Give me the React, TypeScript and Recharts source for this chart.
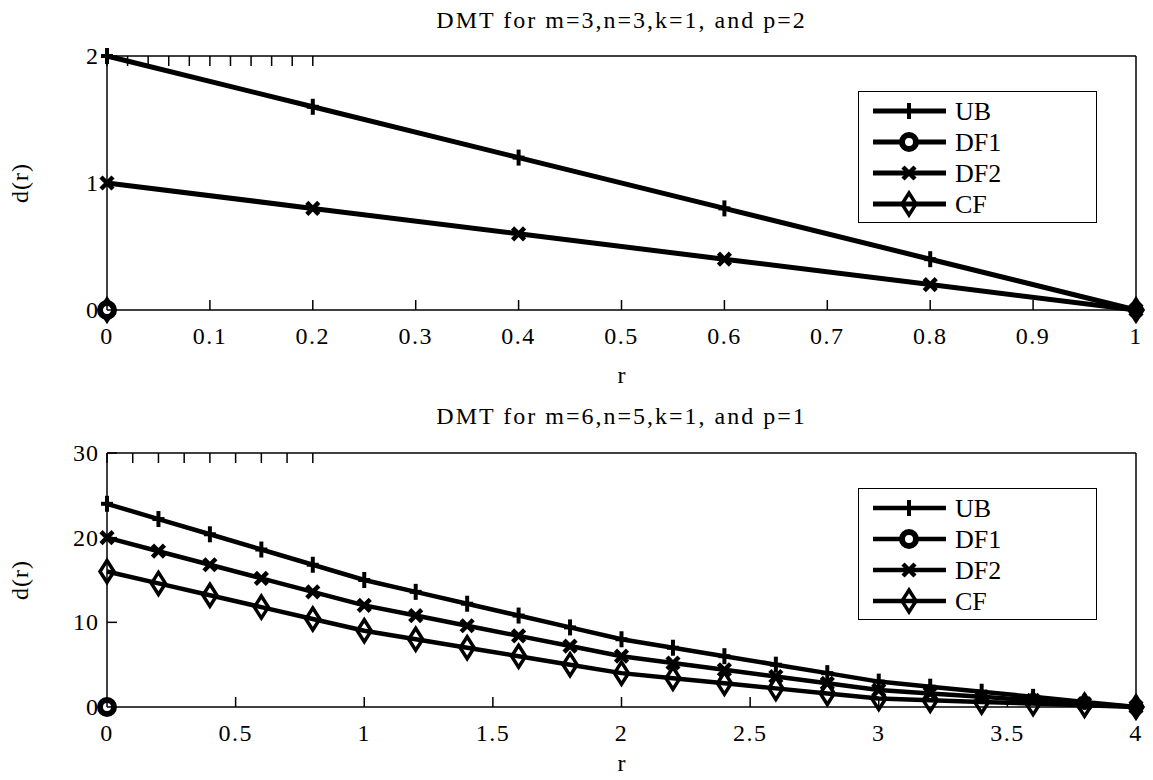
import React from "react";
import { LineChart, Line, XAxis, YAxis, Legend, Label } from "recharts";

const FONT = "'Liberation Serif', 'Times New Roman', serif";

// top panel: m=3, n=3, k=1, p=2
const rTop = [0, 0.2, 0.4, 0.6, 0.8, 1];
const ubTop = [2, 1.6, 1.2, 0.8, 0.4, 0];
const df1Top = [0, null, null, null, null, null];
const df2Top = [1, 0.8, 0.6, 0.4, 0.2, 0];
const cfTop = [0, null, null, null, null, 0];
const xTicksTop = [0, 0.1, 0.2, 0.3, 0.4, 0.5, 0.6, 0.7, 0.8, 0.9, 1];
const yTicksTop = [0, 1, 2];

// bottom panel: m=6, n=5, k=1, p=1
const rBot = [0, 0.2, 0.4, 0.6, 0.8, 1, 1.2, 1.4, 1.6, 1.8, 2, 2.2, 2.4, 2.6, 2.8, 3, 3.2, 3.4, 3.6, 3.8, 4];
const ubBot = [24, 22.2, 20.4, 18.6, 16.8, 15, 13.6, 12.2, 10.8, 9.4, 8, 7, 6, 5, 4, 3, 2.4, 1.8, 1.2, 0.6, 0];
const df1Bot = [0, null, null, null, null, null, null, null, null, null, null, null, null, null, null, null, null, null, null, null, null];
const df2Bot = [20, 18.4, 16.8, 15.2, 13.6, 12, 10.8, 9.6, 8.4, 7.2, 6, 5.2, 4.4, 3.6, 2.8, 2, 1.6, 1.2, 0.8, 0.4, 0];
const cfBot = [16, 14.6, 13.2, 11.8, 10.4, 9, 8, 7, 6, 5, 4, 3.4, 2.8, 2.2, 1.6, 1, 0.8, 0.6, 0.4, 0.2, 0];
const xTicksBot = [0, 0.5, 1, 1.5, 2, 2.5, 3, 3.5, 4];
const yTicksBot = [0, 10, 20, 30];

const seriesNames = ["UB", "DF1", "DF2", "CF"];
const markerKinds = ["plus", "circle", "cross", "diamond"];

function buildRows(r: number[], ub: any[], df1: any[], df2: any[], cf: any[]) {
  return r.map((x, i) => ({ r: x, UB: ub[i], DF1: df1[i], DF2: df2[i], CF: cf[i] }));
}

function Marker({ kind, cx, cy }: { kind: string; cx: number; cy: number }) {
  if (kind === "plus") {
    return (
      <g stroke="#000" strokeWidth={4}>
        <line x1={cx} x2={cx} y1={cy - 8} y2={cy + 8} />
        <line x1={cx - 6} x2={cx + 6} y1={cy} y2={cy} />
      </g>
    );
  }
  if (kind === "circle") {
    return <circle cx={cx} cy={cy} r={7} fill="#fff" stroke="#000" strokeWidth={6} />;
  }
  if (kind === "cross") {
    return (
      <g stroke="#000" strokeWidth={4.5}>
        <line x1={cx - 6} x2={cx + 6} y1={cy - 6} y2={cy + 6} />
        <line x1={cx - 6} x2={cx + 6} y1={cy + 6} y2={cy - 6} />
      </g>
    );
  }
  return (
    <path
      d={`M${cx},${cy - 11}L${cx + 7},${cy}L${cx},${cy + 11}L${cx - 7},${cy}Z`}
      fill="none"
      stroke="#000"
      strokeWidth={3.5}
    />
  );
}

function dotFor(kind: string) {
  return (p: any) => {
    if (p.cx == null || p.cy == null || p.value == null || (Array.isArray(p.value) && p.value[1] == null)) {
      return <g key={`e-${kind}-${p.index}`} />;
    }
    return (
      <g key={`${kind}-${p.index}`}>
        <Marker kind={kind} cx={p.cx} cy={p.cy} />
      </g>
    );
  };
}

const BottomTick = (p: any) => (
  <g>
    <line x1={p.x} x2={p.x} y1={p.y} y2={p.y - 10} stroke="#000" strokeWidth={1.5} />
    <text x={p.x} y={p.y + 34} textAnchor="middle" fontSize={24} letterSpacing={1.5} fontFamily={FONT} fill="#000">
      {String(p.payload.value)}
    </text>
  </g>
);
const TopTick = (p: any) => (
  <line x1={p.x} x2={p.x} y1={p.y} y2={p.y + 10} stroke="#000" strokeWidth={1.5} />
);
const LeftTick = (p: any) => (
  <g>
    <line x1={p.x} x2={p.x + 10} y1={p.y} y2={p.y} stroke="#000" strokeWidth={1.5} />
    <text x={p.x - 8} y={p.y + 8} textAnchor="end" fontSize={24} letterSpacing={1} fontFamily={FONT} fill="#000">
      {String(p.payload.value)}
    </text>
  </g>
);
const RightTick = (p: any) => (
  <line x1={p.x} x2={p.x - 10} y1={p.y} y2={p.y} stroke="#000" strokeWidth={1.5} />
);

function LegendBox({ width }: { width: number }) {
  return (
    <div style={{ width: 239, height: 132, boxSizing: "border-box", border: "1.5px solid #000", background: "#fff" }}>
      <svg width={236} height={129} style={{ display: "block" }}>
        {seriesNames.map((name, i) => {
          const y = 19 + i * 31;
          return (
            <g key={name}>
              <line x1={14} x2={87} y1={y} y2={y} stroke="#000" strokeWidth={width} />
              <Marker kind={markerKinds[i]} cx={50} cy={y} />
              <text x={96} y={y + 9} fontSize={26} fontFamily={FONT} fill="#000">
                {name}
              </text>
            </g>
          );
        })}
      </svg>
    </div>
  );
}

interface PanelProps {
  rows: any[];
  xTicks: number[];
  yTicks: number[];
  xMax: number;
  yMax: number;
  plotTop: number;
  plotBottom: number;
  lineWidth: number;
  legendTop: number;
  rOffset: number;
}

function Panel({ rows, xTicks, yTicks, xMax, yMax, plotTop, plotBottom, lineWidth, legendTop, rOffset }: PanelProps) {
  const H = 390;
  return (
    <LineChart
      width={1153}
      height={H}
      data={rows}
      margin={{ top: plotTop - 10, right: 7, left: 47, bottom: H - plotBottom - 60 }}
    >
      <XAxis
        xAxisId={0}
        dataKey="r"
        type="number"
        domain={[0, xMax]}
        ticks={xTicks}
        interval={0}
        height={60}
        tickSize={0}
        tickMargin={0}
        tickLine={false}
        tick={BottomTick}
        axisLine={{ stroke: "#000", strokeWidth: 1.5 }}
      >
        <Label
          content={(lp: any) => {
            const vb = lp.viewBox || {};
            return (
              <text x={vb.x + vb.width / 2} y={vb.y + rOffset} textAnchor="middle" fontSize={24} fontFamily={FONT} fill="#000">
                r
              </text>
            );
          }}
        />
      </XAxis>
      <XAxis
        xAxisId="top"
        orientation="top"
        type="number"
        domain={[0, xMax]}
        ticks={xTicks}
        interval={0}
        height={10}
        tickSize={0}
        tickMargin={0}
        tickLine={false}
        tick={TopTick}
        axisLine={{ stroke: "#000", strokeWidth: 1.5 }}
      />
      <YAxis
        yAxisId={0}
        type="number"
        domain={[0, yMax]}
        ticks={yTicks}
        interval={0}
        width={60}
        tickSize={0}
        tickMargin={0}
        tickLine={false}
        tick={LeftTick}
        axisLine={{ stroke: "#000", strokeWidth: 1.5 }}
      >
        <Label
          content={(lp: any) => {
            const vb = lp.viewBox || {};
            const cy = vb.y + vb.height / 2;
            return (
              <text
                x={20}
                y={cy}
                transform={`rotate(-90 20 ${cy})`}
                textAnchor="middle"
                dominantBaseline="central"
                fontSize={24}
                letterSpacing={1}
                fontFamily={FONT}
                fill="#000"
              >
                d(r)
              </text>
            );
          }}
        />
      </YAxis>
      <YAxis
        yAxisId="right"
        orientation="right"
        type="number"
        domain={[0, yMax]}
        ticks={yTicks}
        interval={0}
        width={10}
        tickSize={0}
        tickMargin={0}
        tickLine={false}
        tick={RightTick}
        axisLine={{ stroke: "#000", strokeWidth: 1.5 }}
      />
      <Legend
        layout="vertical"
        align="center"
        verticalAlign="middle"
        wrapperStyle={{ left: 858, top: legendTop, width: 239, height: 132 }}
        content={() => <LegendBox width={lineWidth} />}
      />
      {seriesNames.map((name, i) => (
        <Line
          key={name}
          dataKey={name}
          stroke="#000"
          strokeWidth={lineWidth}
          dot={dotFor(markerKinds[i])}
          activeDot={false}
          connectNulls={false}
          isAnimationActive={false}
        />
      ))}
    </LineChart>
  );
}

const titleStyle: React.CSSProperties = {
  position: "absolute",
  left: 107,
  width: 1029,
  textAlign: "center",
  fontFamily: FONT,
  fontSize: 24,
  letterSpacing: 2,
  lineHeight: "24px",
  color: "#000",
  whiteSpace: "nowrap",
};

export default function App() {
  const topRows = buildRows(rTop, ubTop, df1Top, df2Top, cfTop);
  const botRows = buildRows(rBot, ubBot, df1Bot, df2Bot, cfBot);
  return (
    <div style={{ position: "absolute", left: 0, top: 0, width: 1153, height: 780, background: "#fff", fontFamily: FONT }}>
      <div style={{ position: "absolute", left: 0, top: 0 }}>
        <Panel rows={topRows} xTicks={xTicksTop} yTicks={yTicksTop} xMax={1} yMax={2} plotTop={56} plotBottom={310} lineWidth={5} legendTop={91} rOffset={73} />
      </div>
      <div style={{ position: "absolute", left: 0, top: 390 }}>
        <Panel rows={botRows} xTicks={xTicksBot} yTicks={yTicksBot} xMax={4} yMax={30} plotTop={63} plotBottom={317} lineWidth={4.5} legendTop={98} rOffset={64} />
      </div>
      <div style={{ ...titleStyle, top: 8 }}>DMT for m=3,n=3,k=1, and p=2</div>
      <div style={{ ...titleStyle, top: 404 }}>DMT for m=6,n=5,k=1, and p=1</div>
    </div>
  );
}
